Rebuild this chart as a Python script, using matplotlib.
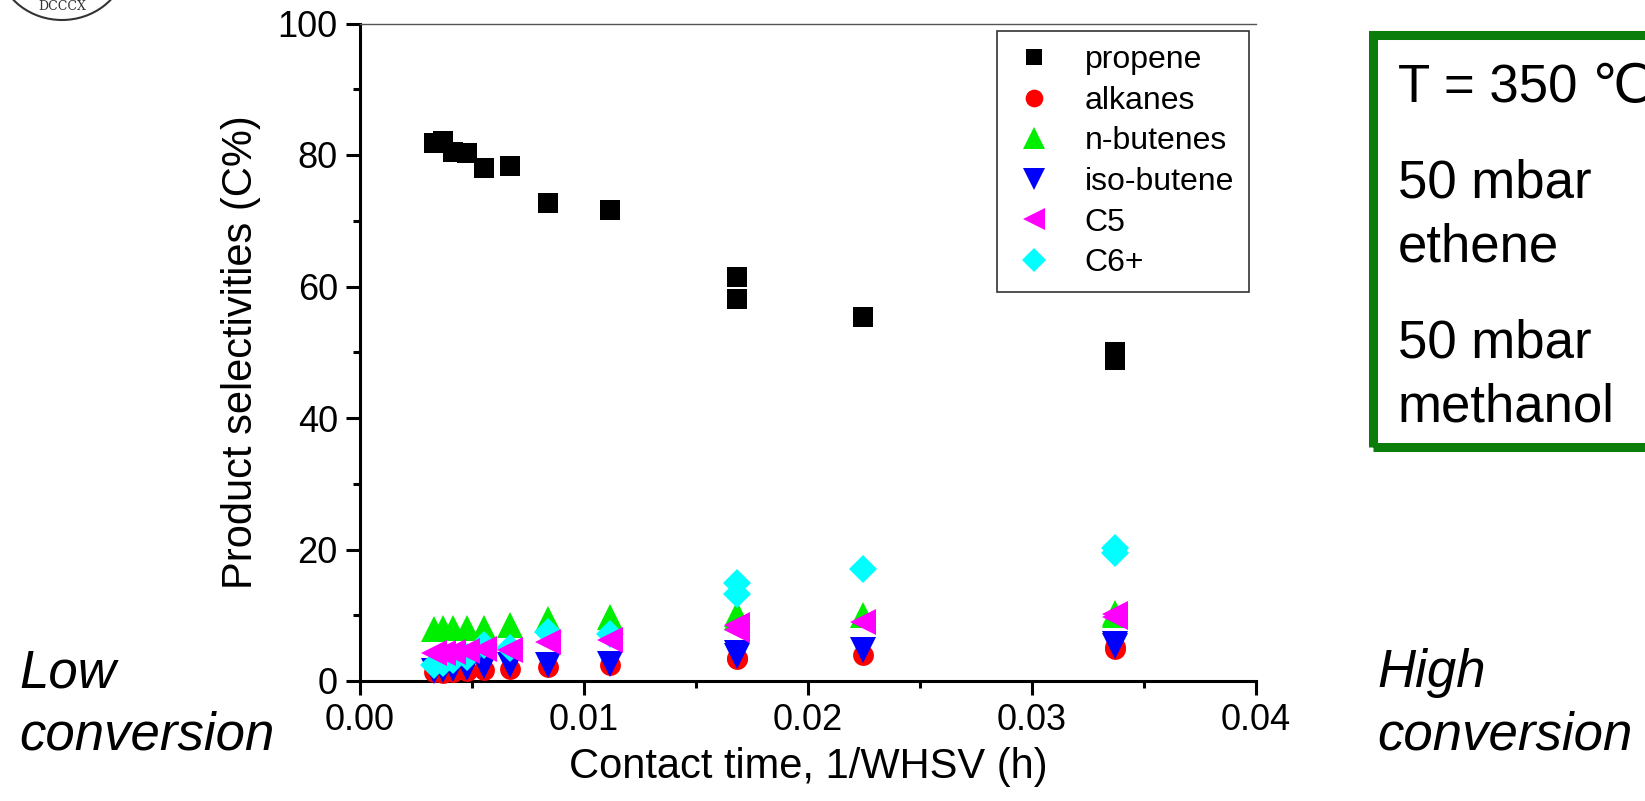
import matplotlib
matplotlib.use("Agg")
import matplotlib.pyplot as plt
from matplotlib.patches import Rectangle, Arc
from matplotlib.ticker import MultipleLocator, FormatStrFormatter

plt.rcParams['font.family'] = ['Liberation Sans', 'DejaVu Sans']

# contact time (1/WHSV, h); two runs at 0.0168 and 0.0337
contact_time = [0.00332, 0.00369, 0.00414, 0.00476, 0.00555, 0.00668, 0.00839,
                0.01118, 0.01682, 0.01682, 0.02244, 0.0337, 0.0337]

propene = [81.9, 82.2, 80.5, 80.3, 78.0, 78.3, 72.7, 71.7, 61.4, 58.1, 55.3, 50.1, 48.8]
alkanes = [1.3, 1.2, 1.4, 1.5, 1.7, 1.8, 2.2, 2.4, 3.5, 3.3, 4.0, 5.1, 4.9]
n_butenes = [7.9, 8.0, 8.0, 8.1, 8.1, 8.5, 9.4, 9.8, 10.2, 9.8, 10.0, 10.3, 10.1]
iso_butene = [1.5, 1.6, 1.8, 2.0, 2.3, 2.5, 2.4, 2.6, 4.2, 3.8, 4.7, 5.6, 5.3]
c5 = [4.2, 4.3, 4.4, 4.6, 4.8, 4.7, 6.0, 6.2, 8.5, 7.8, 8.9, 10.2, 9.8]
c6_plus = [2.4, 2.7, 3.2, 3.7, 5.5, 5.0, 7.5, 7.1, 14.9, 13.3, 17.0, 20.2, 19.4]

W, H = 1645, 801
fig = plt.figure(figsize=(W / 100, H / 100), dpi=100)
ax = fig.add_axes([360 / W, 1 - 681 / H, 896 / W, (681 - 23.5) / H])

# (label, values, marker, colour, size, zorder)
series = [
    ("propene", propene, "s", "black", 14, 3),
    ("alkanes", alkanes, "o", "red", 15, 3),
    ("n-butenes", n_butenes, "^", "#00ee00", 19, 4),
    ("iso-butene", iso_butene, "v", "blue", 19, 3.5),
    ("C5", c5, "<", "magenta", 19, 6),
    ("C6+", c6_plus, "D", "cyan", 14, 5),
]
for label, vals, mk, col, ms, z in series:
    ax.plot(contact_time, vals, linestyle="none", marker=mk, color=col,
            markersize=ms, markeredgewidth=0, label=label, zorder=z, clip_on=False)

ax.set_xlim(0, 0.04)
ax.set_ylim(0, 100)
ax.xaxis.set_major_locator(MultipleLocator(0.01))
ax.xaxis.set_minor_locator(MultipleLocator(0.005))
ax.yaxis.set_major_locator(MultipleLocator(20))
ax.yaxis.set_minor_locator(MultipleLocator(10))
ax.xaxis.set_major_formatter(FormatStrFormatter("%.2f"))

ax.spines["right"].set_visible(False)
ax.spines["top"].set_linewidth(1.0)
ax.spines["top"].set_color("#555555")
for s in ["left", "bottom"]:
    ax.spines[s].set_linewidth(2.2)
ax.tick_params(which="major", direction="out", length=10, width=2.2, labelsize=26, pad=6)
ax.tick_params(which="minor", direction="out", length=5, width=2.2)
ax.tick_params(top=False, right=False)

ax.set_xlabel("Contact time, 1/WHSV (h)", fontsize=30, labelpad=6)
ax.set_ylabel("Product selectivities (C%)", fontsize=30, labelpad=12)

leg = ax.legend(loc="upper left", bbox_to_anchor=(997 / W, 1 - 31 / H),
                bbox_transform=fig.transFigure, fontsize=23, frameon=True,
                fancybox=False, edgecolor="black", markerscale=0.85,
                handlelength=1.4, handletextpad=0.9, labelspacing=0.33,
                borderpad=0.45, borderaxespad=0)
leg.get_frame().set_linewidth(1.2)
leg.set_zorder(10)

# conditions box (runs off the right edge, as in the slide)
fig.patches.append(Rectangle((1373 / W, 1 - 447 / H), 400 / W, 412 / H,
                             transform=fig.transFigure, fill=False,
                             edgecolor="#0a7d0a", linewidth=6.5))
box_lines = [("T = 350 \u2103", 102), ("50 mbar", 198), ("ethene", 262),
             ("50 mbar", 357), ("methanol", 422)]
for txt, yb in box_lines:
    fig.text(1398 / W, 1 - yb / H, txt, fontsize=38, va="baseline")

fig.text(19 / W, 1 - 687 / H, "Low", fontsize=38, style="italic", va="baseline")
fig.text(19 / W, 1 - 750 / H, "conversion", fontsize=38, style="italic", va="baseline")
fig.text(1377 / W, 1 - 687 / H, "High", fontsize=38, style="italic", va="baseline")
fig.text(1377 / W, 1 - 750 / H, "conversion", fontsize=38, style="italic", va="baseline")

# bit of the logo seal in the corner
fig.patches.append(Arc((62 / W, 1 + 40 / H), 130 / W, 120 / H, theta1=200, theta2=340,
                       transform=fig.transFigure, color="#333333", linewidth=1.5))
fig.text(62 / W, 1 - 7 / H, "DCCCX", fontsize=9, family="DejaVu Serif",
         ha="center", va="center", color="#333333")

fig.savefig("out.png", dpi=100)
